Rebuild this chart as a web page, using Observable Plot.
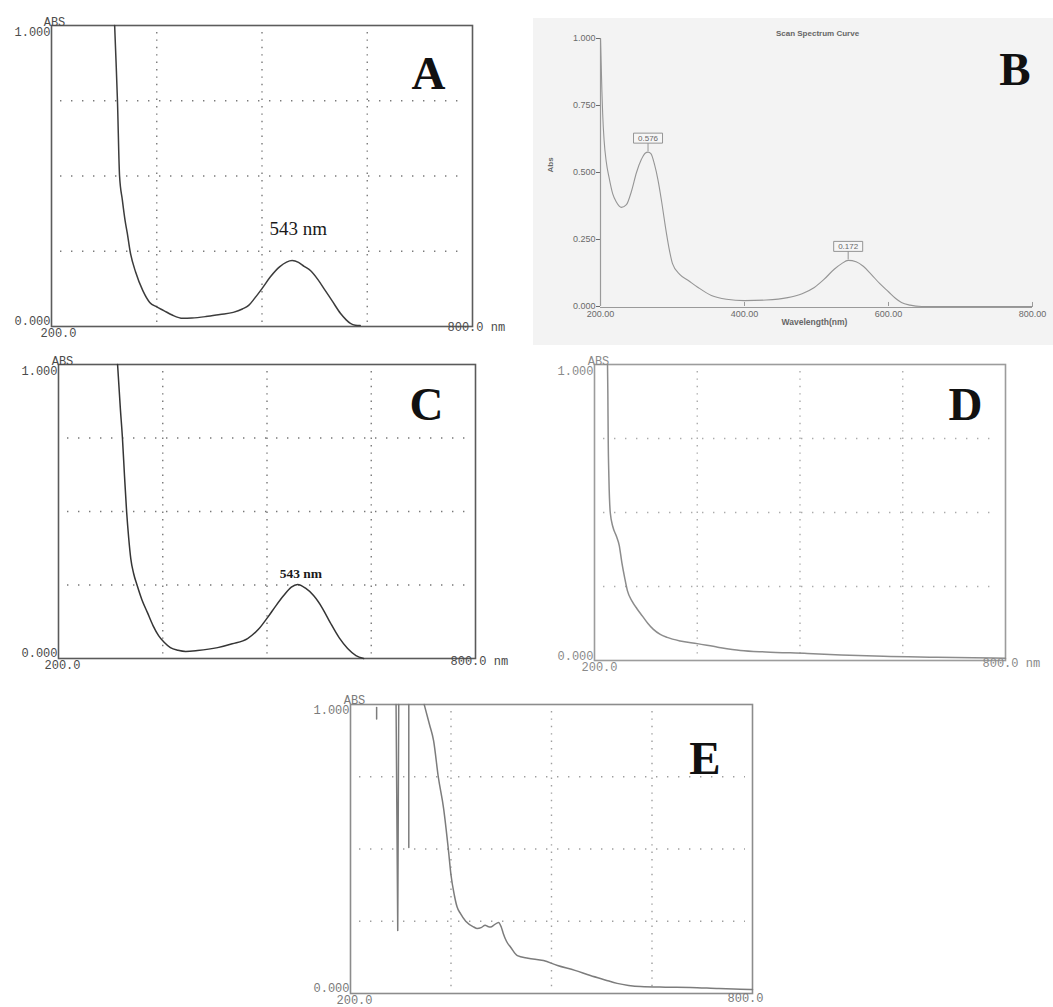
<!DOCTYPE html>
<html><head><meta charset="utf-8">
<script src="https://cdn.jsdelivr.net/npm/d3@7"></script>
<script src="https://cdn.jsdelivr.net/npm/@observablehq/plot@0.6"></script>
<style>
html,body{margin:0;padding:0;background:#fff;}
#page{position:relative;width:1053px;height:1007px;overflow:hidden;background:#fff;}
.panel{position:absolute;}
.panel svg{overflow:visible;}
</style></head><body><div id="page"></div>
<script>
// ---------- data ----------
const A_WL  = [290, 292, 294, 297, 301, 305, 308, 312, 320, 330, 340, 350, 360, 372, 387, 400, 420, 440, 459, 472, 481, 490, 500, 512, 525, 535, 543, 552, 560, 569, 580, 590, 600, 612, 620, 626, 633, 640];
const A_ABS = [1.0, 0.88, 0.75, 0.50, 0.42, 0.35, 0.31, 0.25, 0.18, 0.12, 0.08, 0.065, 0.053, 0.038, 0.027, 0.028, 0.033, 0.040, 0.047, 0.058, 0.070, 0.095, 0.126, 0.165, 0.198, 0.214, 0.219, 0.213, 0.200, 0.186, 0.155, 0.120, 0.085, 0.043, 0.022, 0.010, 0.004, 0.003];

const B_WL  = [200, 201, 202, 203, 205, 208, 212, 217, 222, 229, 236, 243, 250, 257, 262, 266, 270, 275, 280, 285, 290, 295, 300, 310, 322, 335, 354, 375, 400, 430, 460, 480, 497, 510, 525, 535, 544, 555, 565, 576, 588, 600, 610, 618, 630, 646, 700, 800];
const B_ABS = [1.0, 0.90, 0.80, 0.72, 0.62, 0.54, 0.48, 0.42, 0.39, 0.37, 0.38, 0.43, 0.50, 0.55, 0.572, 0.576, 0.57, 0.53, 0.47, 0.39, 0.30, 0.22, 0.16, 0.12, 0.097, 0.072, 0.041, 0.027, 0.022, 0.024, 0.033, 0.048, 0.071, 0.100, 0.140, 0.160, 0.172, 0.167, 0.150, 0.120, 0.085, 0.055, 0.030, 0.015, 0.005, 0.0, 0.0, 0.0];
const B_PEAK_WL   = [266, 544];
const B_PEAK_ABS  = [0.576, 0.172];
const B_PEAK_TEXT = ["0.576", "0.172"];
const B_X_TICKS = [200, 400, 600, 800];
const B_Y_TICKS = [0, 0.25, 0.5, 0.75, 1];

const C_WL  = [285, 289, 292, 295, 298, 301, 304, 308, 313, 320, 328, 336, 344, 352, 361, 372, 383, 400, 429, 450, 472, 488, 501, 513, 524, 535, 544, 555, 567, 580, 591, 604, 616, 628, 639];
const C_ABS = [1.0, 0.85, 0.75, 0.62, 0.50, 0.41, 0.34, 0.29, 0.25, 0.20, 0.156, 0.112, 0.078, 0.055, 0.037, 0.028, 0.024, 0.027, 0.037, 0.050, 0.068, 0.100, 0.140, 0.180, 0.214, 0.243, 0.252, 0.240, 0.214, 0.170, 0.122, 0.070, 0.034, 0.010, 0.0];

const D_WL  = [219, 219.5, 220, 221, 223, 227, 232, 236, 240, 244, 248, 255, 262, 270, 278, 286, 296, 306, 325, 350, 380, 413, 450, 511, 560, 622, 700, 753, 800];
const D_ABS = [1.0, 0.90, 0.75, 0.62, 0.50, 0.45, 0.42, 0.39, 0.33, 0.28, 0.236, 0.20, 0.175, 0.15, 0.125, 0.105, 0.088, 0.078, 0.066, 0.057, 0.045, 0.034, 0.029, 0.024, 0.019, 0.014, 0.011, 0.009, 0.008];

const E_WL  = [310, 318, 324, 331, 339, 346, 350, 355, 359, 364, 372, 384, 389, 395, 401, 405, 409, 415, 421, 425, 428, 433, 439, 449, 465, 488, 509, 535, 558, 580, 598, 615, 633, 670, 707, 750, 797, 800];
const E_ABS = [1.0, 0.93, 0.875, 0.75, 0.64, 0.50, 0.41, 0.34, 0.30, 0.277, 0.25, 0.23, 0.225, 0.228, 0.236, 0.232, 0.23, 0.238, 0.246, 0.23, 0.208, 0.18, 0.16, 0.131, 0.122, 0.114, 0.097, 0.08, 0.062, 0.047, 0.035, 0.028, 0.024, 0.022, 0.021, 0.017, 0.014, 0.014];
const E_SPIKE_WL  = [239, 239, 268, 270.5, 272, 287, 287];
const E_SPIKE_ABS = [0.99, 0.95, 1.0, 0.218, 1.0, 1.0, 0.505];
const E_SPIKE_ID  = [1, 1, 2, 2, 2, 3, 3];

const GRID_WL  = [350, 500, 650];
const GRID_ABS = [0.25, 0.5, 0.75];
const X_TICKS = [200, 800];
const Y_TICKS = [0, 1];
const Y_TICK_TEXT = ["0.000", "1.000"];
const X_TICK_TEXT_NM = ["200.0", "800.0 nm"];
const X_TICK_TEXT = ["200.0", "800.0"];
const PEAK_TEXT = "543 nm";
const PEAK_WL = 543;
const PEAK_A = 0.219;
const PEAK_C = 0.252;
const LETTERS = ["A", "B", "C", "D", "E"];

// ---------- helpers ----------
const page = document.getElementById("page");
function place(svg, left, top) {
  const d = document.createElement("div");
  d.className = "panel";
  d.style.left = left + "px";
  d.style.top = top + "px";
  d.appendChild(svg);
  page.appendChild(d);
}
const MONO = "Liberation Mono, DejaVu Sans Mono, monospace";
const SERIF = "Liberation Serif, Times New Roman, serif";

function instrument(cfg) {
  const curve = cfg.wl.map((w, i) => ({wl: w, abs: cfg.abs[i]}));
  const yT = Y_TICKS.map((v, i) => ({v, t: Y_TICK_TEXT[i]}));
  const xT = X_TICKS.map((v, i) => ({v, t: cfg.xText[i]}));
  const font = {fontFamily: MONO, fontSize: cfg.fs, fill: cfg.textInk};
  const marks = [
    Plot.ruleX(GRID_WL, {stroke: cfg.gridInk, strokeWidth: 1.4, strokeDasharray: "1.4,6", insetTop: 7, insetBottom: 4}),
    Plot.ruleY(GRID_ABS, {stroke: cfg.gridInk, strokeWidth: 1.4, strokeDasharray: "1.4,9.6", insetLeft: 9, insetRight: 7}),
    Plot.frame({stroke: cfg.frameInk, strokeWidth: 1.6}),
    Plot.line(curve, {x: "wl", y: "abs", stroke: cfg.ink, strokeWidth: 1.5, curve: "monotone-x"})
  ];
  if (cfg.spikes) {
    marks.push(Plot.line(cfg.spikes, {x: "wl", y: "abs", z: "id", stroke: cfg.ink, strokeWidth: 1.5}));
  }
  marks.push(
    Plot.text(["ABS"], {text: d => d, frameAnchor: "top-left", textAnchor: "middle", dx: cfg.absLab[0], dy: cfg.absLab[1], ...font}),
    Plot.text(yT.filter(d => d.v === 1), {y: "v", text: "t", frameAnchor: "left", textAnchor: "end", dx: cfg.yTop[0], dy: cfg.yTop[1], ...font}),
    Plot.text(yT.filter(d => d.v === 0), {y: "v", text: "t", frameAnchor: "left", textAnchor: "end", dx: cfg.yBot[0], dy: cfg.yBot[1], ...font}),
    Plot.text(xT.slice(0, 1), {x: "v", text: "t", frameAnchor: "bottom", textAnchor: "middle", dx: cfg.xMin[0], dy: cfg.xMin[1], ...font}),
    Plot.text(xT.slice(1), {x: "v", text: "t", frameAnchor: "bottom", textAnchor: cfg.xMaxAnchor, dx: cfg.xMax[0], dy: cfg.xMax[1], ...font}),
    Plot.text([cfg.letter], {text: d => d, frameAnchor: "top-right", textAnchor: "end", lineAnchor: "top", dx: cfg.letterPos[0], dy: cfg.letterPos[1], fontFamily: SERIF, fontWeight: "bold", fontSize: 47, fill: "#111"})
  );
  if (cfg.peak) {
    marks.push(Plot.text([cfg.peak], {x: "wl", y: "abs", text: "t", dx: cfg.peak.dx, dy: cfg.peak.dy, fontFamily: SERIF, fontWeight: cfg.peak.weight, fontSize: cfg.peak.fs, fill: "#1a1a1a"}));
  }
  return Plot.plot({
    width: cfg.width, height: cfg.height,
    marginLeft: cfg.m[0], marginRight: cfg.m[1], marginTop: cfg.m[2], marginBottom: cfg.m[3],
    x: {domain: [200, 800], axis: null},
    y: {domain: [0, 1], axis: null},
    style: {background: "transparent", overflow: "visible"},
    marks
  });
}

// ---------- Panel A ----------
place(instrument({
  wl: A_WL, abs: A_ABS, width: 530, height: 345, m: [51, 58, 25, 19],
  ink: "#3c3c3c", frameInk: "#5c5c5c", gridInk: "#7a7a7a", textInk: "#4c4c4c", fs: 12,
  xText: X_TICK_TEXT_NM, absLab: [3, -8], yTop: [-1, 7], yBot: [-1, -5], xMin: [7, 10], xMax: [-25, 4], xMaxAnchor: "start",
  letter: LETTERS[0], letterPos: [-27, 30],
  peak: {wl: PEAK_WL, abs: PEAK_A, t: PEAK_TEXT, dx: 6, dy: -32, fs: 19, weight: "normal"}
}), 0, 0);

// ---------- Panel C ----------
place(instrument({
  wl: C_WL, abs: C_ABS, width: 540, height: 330, m: [58, 65, 19, 17],
  ink: "#353535", frameInk: "#5a5a5a", gridInk: "#777", textInk: "#4a4a4a", fs: 12,
  xText: X_TICK_TEXT_NM, absLab: [4, -8], yTop: [-1, 7], yBot: [-1, -5], xMin: [4, 10], xMax: [-25, 6], xMaxAnchor: "start",
  letter: LETTERS[2], letterPos: [-32, 22],
  peak: {wl: PEAK_WL, abs: PEAK_C, t: PEAK_TEXT, dx: 4, dy: -11, fs: 13.5, weight: "bold"}
}), 0, 345);

// ---------- Panel D ----------
place(instrument({
  wl: D_WL, abs: D_ABS, width: 513, height: 330, m: [54, 48, 19, 15],
  ink: "#8c8c8c", frameInk: "#9c9c9c", gridInk: "#ababab", textInk: "#8a8a8a", fs: 12,
  xText: X_TICK_TEXT_NM, absLab: [4, -8], yTop: [-1, 7], yBot: [-1, -4], xMin: [5, 10], xMax: [-23, 6], xMaxAnchor: "start",
  letter: LETTERS[3], letterPos: [-23, 22]
}), 540, 345);

// ---------- Panel E ----------
place(instrument({
  wl: E_WL, abs: E_ABS, width: 480, height: 327, m: [60, 18, 24, 14],
  spikes: E_SPIKE_WL.map((w, i) => ({wl: w, abs: E_SPIKE_ABS[i], id: E_SPIKE_ID[i]})),
  ink: "#7c7c7c", frameInk: "#8c8c8c", gridInk: "#9e9e9e", textInk: "#7a7a7a", fs: 12,
  xText: X_TICK_TEXT, absLab: [4, -9], yTop: [-1, 6], yBot: [-1, -5], xMin: [4, 10], xMax: [-7, 8], xMaxAnchor: "middle",
  letter: LETTERS[4], letterPos: [-32, 36]
}), 290, 680);

// ---------- Panel B ----------
(function () {
  const curve = B_WL.map((w, i) => ({wl: w, abs: B_ABS[i]}));
  const peaks = B_PEAK_WL.map((w, i) => ({wl: w, abs: B_PEAK_ABS[i], t: B_PEAK_TEXT[i]}));
  const boxSymbol = {
    draw(ctx) {
      ctx.moveTo(-14.5, -5); ctx.lineTo(14.5, -5); ctx.lineTo(14.5, 5); ctx.lineTo(-14.5, 5); ctx.closePath();
      ctx.moveTo(0, 5); ctx.lineTo(0, 13);
    }
  };
  const SANS = "Liberation Sans, Arial, sans-serif";
  const svg = Plot.plot({
    width: 520, height: 327,
    marginLeft: 67, marginRight: 21, marginTop: 20, marginBottom: 39,
    style: {background: "#f3f3f3", fontFamily: SANS, fontSize: "9px", color: "#6a6a6a", overflow: "visible"},
    x: {domain: [200, 800], ticks: B_X_TICKS, tickFormat: d3.format(".2f"), tickSize: 0, tickPadding: 4, label: null},
    y: {domain: [0, 1], ticks: B_Y_TICKS, tickFormat: d3.format(".3f"), tickSize: 4, tickPadding: 1, label: null},
    marks: [
      Plot.ruleX(B_X_TICKS.slice(0, 1), {stroke: "#9a9a9a", strokeWidth: 1.2}),
      Plot.ruleY(B_Y_TICKS.slice(0, 1), {stroke: "#9a9a9a", strokeWidth: 1.2, dy: 1}),
      Plot.ruleX(B_X_TICKS.slice(1), {y1: 0, y2: 0.015, stroke: "#9a9a9a"}),
      Plot.line(curve, {x: "wl", y: "abs", stroke: "#959595", strokeWidth: 1.1, curve: "monotone-x"}),
      Plot.dot(peaks, {x: "wl", y: "abs", symbol: boxSymbol, fill: "#f6f6f6", stroke: "#8a8a8a", strokeWidth: 0.9, dy: -14}),
      Plot.text(peaks, {x: "wl", y: "abs", text: "t", dy: -14, fontSize: 8, fill: "#666", fontFamily: SANS}),
      Plot.text(["Scan Spectrum Curve"], {text: d => d, frameAnchor: "top", dy: -8, dx: 1, fontSize: 8, fontWeight: "bold", fill: "#666", fontFamily: SANS}),
      Plot.text(["Wavelength(nm)"], {text: d => d, frameAnchor: "bottom", dy: 18, dx: -2, fontSize: 8.5, fontWeight: "bold", fill: "#666", fontFamily: SANS}),
      Plot.text(["Abs"], {text: d => d, frameAnchor: "left", rotate: -90, dx: -50, fontSize: 8, fontWeight: "bold", fill: "#666", fontFamily: SANS}),
      Plot.text([LETTERS[1]], {text: d => d, frameAnchor: "top-right", textAnchor: "end", lineAnchor: "top", dx: -2, dy: 13, fontFamily: SERIF, fontWeight: "bold", fontSize: 47, fill: "#111"})
    ]
  });
  place(svg, 533, 18);
})();
</script>
</body></html>
